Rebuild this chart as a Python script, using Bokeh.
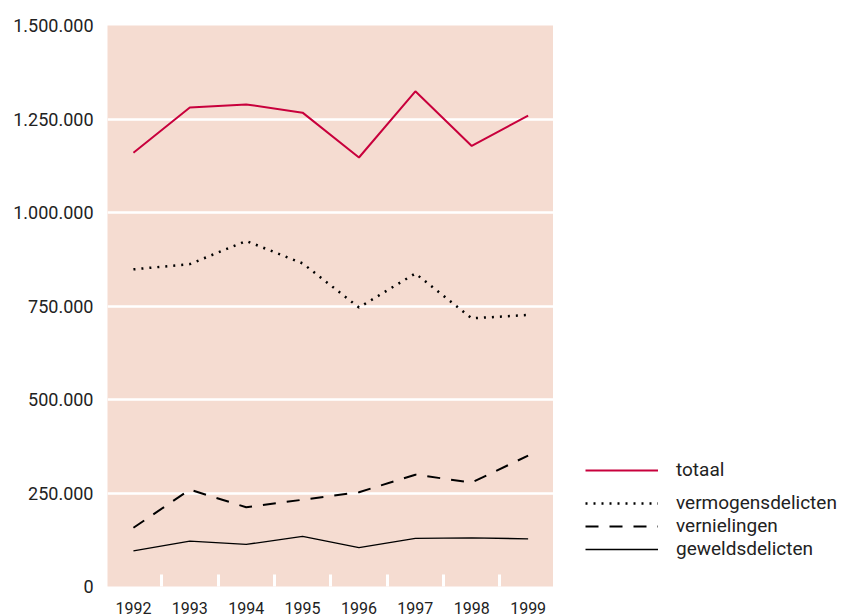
from bokeh.plotting import figure
from bokeh.models import FixedTicker, Legend, LegendItem, Range1d
from bokeh.layouts import row
from bokeh.embed import file_html
from bokeh.resources import INLINE

years = [1992, 1993, 1994, 1995, 1996, 1997, 1998, 1999]
totaal = [1160000, 1281000, 1289000, 1267000, 1147000, 1324000, 1178000, 1259000]
vermogensdelicten = [848000, 862000, 924000, 864000, 746000, 837000, 717000, 726000]
vernielingen = [157000, 259000, 212000, 232000, 252000, 299000, 278000, 350000]
geweldsdelicten = [95000, 121500, 112500, 134000, 104000, 128500, 130000, 127500]

y_ticks = [0, 250000, 500000, 750000, 1000000, 1250000, 1500000]
y_tick_labels = ["0", "250.000", "500.000", "750.000", "1.000.000", "1.250.000", "1.500.000"]
x_separators = [1992.5, 1993.5, 1994.5, 1995.5, 1996.5, 1997.5, 1998.5]

SERIES = {
    "totaal": totaal,
    "vermogensdelicten": vermogensdelicten,
    "vernielingen": vernielingen,
    "geweldsdelicten": geweldsdelicten,
}

FONT = "Roboto"
BG = "#f5dcd1"
RED = "#c8003c"
TXT = "#222222"

STYLES = {
    "totaal": dict(line_color=RED, line_width=2),
    "vermogensdelicten": dict(line_color="black", line_width=2.5, line_dash="2 6"),
    "vernielingen": dict(line_color="black", line_width=2, line_dash="13 11"),
    "geweldsdelicten": dict(line_color="black", line_width=1.3),
}

p = figure(width=553, height=616, output_backend="svg", toolbar_location=None,
           x_range=Range1d(1991.54, 1999.45), y_range=Range1d(0, 1500000),
           min_border_left=107, min_border_right=0, min_border_top=25, min_border_bottom=27)
p.background_fill_color = BG
p.border_fill_color = "white"
p.outline_line_color = None
p.xgrid.grid_line_color = None
p.ygrid.grid_line_color = "white"
p.ygrid.grid_line_width = 2.5

for name, vals in SERIES.items():
    p.line(years, vals, **STYLES[name])

xa = p.xaxis[0]
xa.ticker = FixedTicker(ticks=years, minor_ticks=x_separators)
xa.axis_line_color = None
xa.major_tick_line_color = None
xa.minor_tick_line_color = "white"
xa.minor_tick_line_width = 3
xa.minor_tick_in = 12
xa.minor_tick_out = 0
xa.major_tick_in = 0
xa.major_tick_out = 0
xa.major_label_standoff = 15
xa.major_label_text_font = FONT
xa.major_label_text_font_size = "16px"
xa.major_label_text_color = TXT

ya = p.yaxis[0]
ya.ticker = FixedTicker(ticks=y_ticks)
ya.major_label_overrides = {t: l for t, l in zip(y_ticks, y_tick_labels)}
ya.axis_line_color = None
ya.major_tick_line_color = None
ya.minor_tick_line_color = None
ya.major_tick_in = 0
ya.major_tick_out = 0
ya.major_label_standoff = 14
ya.major_label_text_font = FONT
ya.major_label_text_font_size = "18px"
ya.major_label_text_color = TXT

# legend panel (series lie outside its ranges, only the legend samples show)
p2 = figure(width=292, height=616, output_backend="svg", toolbar_location=None,
            x_range=Range1d(0, 1), y_range=Range1d(0, 1),
            min_border=0, min_border_left=0, min_border_right=0,
            min_border_top=0, min_border_bottom=0)
p2.axis.visible = False
p2.grid.visible = False
p2.outline_line_color = None
p2.background_fill_color = "white"
p2.border_fill_color = "white"

legend_r = {name: p2.line(years, vals, **STYLES[name]) for name, vals in SERIES.items()}

def make_legend(names, loc):
    lg = Legend(items=[LegendItem(label=n, renderers=[legend_r[n]]) for n in names],
                location=loc, orientation="vertical")
    lg.background_fill_alpha = 0
    lg.border_line_color = None
    lg.padding = 0
    lg.margin = 0
    lg.spacing = -2
    lg.glyph_width = 73
    lg.glyph_height = 20
    lg.label_height = 20
    lg.label_standoff = 18
    lg.label_text_font = FONT
    lg.label_text_font_size = "19px"
    lg.label_text_color = TXT
    return lg

p2.add_layout(make_legend(["totaal"], (32, 105)))
p2.add_layout(make_legend(["vermogensdelicten", "vernielingen", "geweldsdelicten"], (32, 26)))

layout = row(p, p2, spacing=0)
open("out.html", "w").write(file_html(layout, INLINE))
